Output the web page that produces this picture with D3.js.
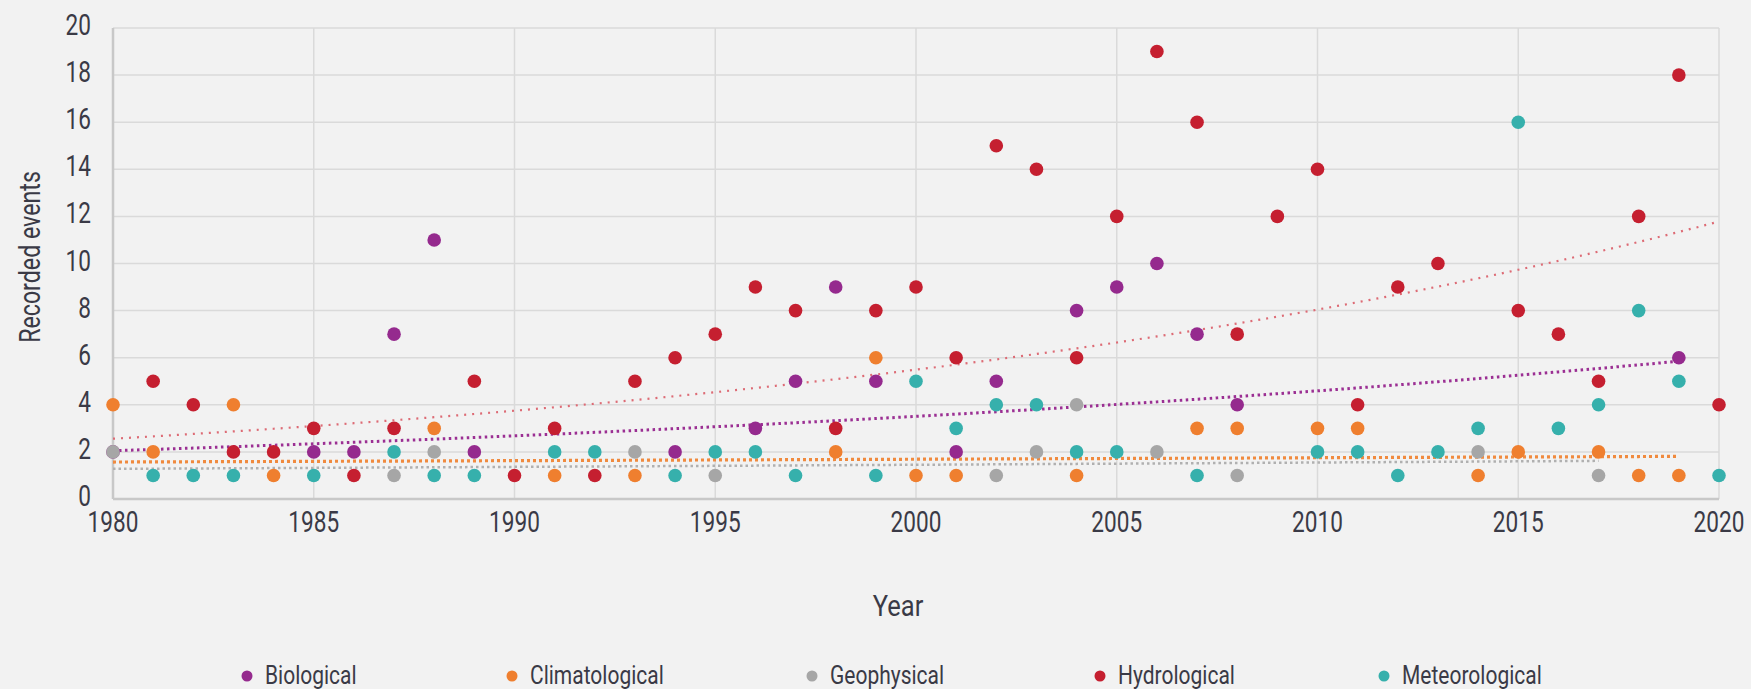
<!DOCTYPE html>
<html lang="en">
<head>
<meta charset="UTF-8">
<title>Recorded events by year</title>
<script src="https://d3js.org/d3.v7.min.js"></script>
<style>
  body {
    margin: 0;
    background: #f2f2f2;
    font-family: "Roboto", "Noto Sans", sans-serif;
  }
  svg { display: block; }
  .grid line { stroke: #dadada; stroke-width: 1.5; }
  text { fill: #3a3a46; }
  .tick-label { font-size: 29px; }
  .axis-title { font-size: 29px; }
  .legend text { font-size: 25px; }
</style>
</head>
<body>
<svg id="chart" width="1751" height="689"></svg>
<script>
// series (year, recorded events)
const seriesNames = ["Biological", "Climatological", "Geophysical", "Hydrological", "Meteorological"];
const seriesColors = ["#952a8e", "#ef7f2f", "#a6a6a6", "#c51f30", "#36b0ac"];

const biological = [[1980,2],[1985,2],[1986,2],[1987,7],[1988,11],[1989,2],[1994,2],[1996,3],[1997,5],
  [1998,9],[1999,5],[2001,2],[2002,5],[2004,8],[2005,9],[2006,10],[2007,7],[2008,4],[2019,6]];
const climatological = [[1980,4],[1981,2],[1983,4],[1984,1],[1988,3],[1991,1],[1993,1],[1998,2],[1999,6],
  [2000,1],[2001,1],[2004,1],[2007,3],[2008,3],[2010,3],[2011,3],[2014,1],[2015,2],[2017,2],[2018,1],[2019,1]];
const geophysical = [[1980,2],[1987,1],[1988,2],[1993,2],[1995,1],[2002,1],[2003,2],[2004,4],[2006,2],
  [2008,1],[2014,2],[2017,1]];
const hydrological = [[1981,5],[1982,4],[1983,2],[1984,2],[1985,3],[1986,1],[1987,3],[1989,5],[1990,1],
  [1991,3],[1992,1],[1993,5],[1994,6],[1995,7],[1996,9],[1997,8],[1998,3],[1999,8],[2000,9],[2001,6],
  [2002,15],[2003,14],[2004,6],[2005,12],[2006,19],[2007,16],[2008,7],[2009,12],[2010,14],[2011,4],
  [2012,9],[2013,10],[2015,8],[2016,7],[2017,5],[2018,12],[2019,18],[2020,4]];
const meteorological = [[1981,1],[1982,1],[1983,1],[1985,1],[1987,2],[1988,1],[1989,1],[1991,2],[1992,2],
  [1994,1],[1995,2],[1996,2],[1997,1],[1999,1],[2000,5],[2001,3],[2002,4],[2003,4],[2004,2],[2005,2],
  [2007,1],[2010,2],[2011,2],[2012,1],[2013,2],[2014,3],[2015,16],[2016,3],[2017,4],[2018,8],[2019,5],[2020,1]];
const seriesData = [biological, climatological, geophysical, hydrological, meteorological];

// exponential trend lines (start / end)
const trendSeries = ["Biological", "Climatological", "Geophysical", "Hydrological"];
const trendStartYear = [1980, 1980, 1980, 1980];
const trendEndYear = [2019, 2019, 2017, 2020];
const trendStartValue = [2.05, 1.57, 1.28, 2.56];
const trendEndValue = [5.85, 1.81, 1.62, 11.78];

const xTicks = [1980, 1985, 1990, 1995, 2000, 2005, 2010, 2015, 2020];
const yTicks = [0, 2, 4, 6, 8, 10, 12, 14, 16, 18, 20];

const margin = { top: 28, right: 32, bottom: 190, left: 113 };
const width = 1751 - margin.left - margin.right;
const height = 689 - margin.top - margin.bottom;

const svg = d3.select("#chart");
const g = svg.append("g").attr("transform", `translate(${margin.left},${margin.top})`);

const x = d3.scaleLinear().domain([1980, 2020]).range([0, width]);
const y = d3.scaleLinear().domain([0, 20]).range([height, 0]);
const color = d3.scaleOrdinal().domain(seriesNames).range(seriesColors);

// narrow text: no condensed font installed, so squeeze Roboto horizontally
function narrowText(parent, px, py, str, cls, anchor, sx, rot) {
  const r = rot ? ` rotate(${rot})` : "";
  return parent.append("text")
    .attr("class", cls)
    .attr("transform", `translate(${px},${py})${r} scale(${sx},1)`)
    .attr("text-anchor", anchor)
    .text(str);
}

// grid
const grid = g.append("g").attr("class", "grid");
grid.selectAll(".h").data(yTicks.slice(1)).enter().append("line")
  .attr("x1", 0).attr("x2", width).attr("y1", d => y(d)).attr("y2", d => y(d));
grid.selectAll(".v").data(xTicks.slice(1)).enter().append("line")
  .attr("y1", 0).attr("y2", height).attr("x1", d => x(d)).attr("x2", d => x(d));

// axis lines
g.append("line").attr("x1", 0).attr("x2", 0).attr("y1", 0).attr("y2", height)
  .attr("stroke", "#c8c8c8").attr("stroke-width", 2.5);
g.append("line").attr("x1", 0).attr("x2", width).attr("y1", height).attr("y2", height)
  .attr("stroke", "#c8c8c8").attr("stroke-width", 2.5);

// tick labels
yTicks.forEach(d => {
  narrowText(g, -22, y(d) + 7, d, "tick-label", "end", 0.78);
});
xTicks.forEach(d => {
  narrowText(g, x(d), height + 33, d, "tick-label", "middle", 0.78);
});

// axis titles
narrowText(svg, 40, 257, "Recorded events", "axis-title", "middle", 0.8, -90);
narrowText(svg, 898, 616, "Year", "axis-title", "middle", 0.88);

// trend lines
const trendStyles = {
  Biological: { w: 3, dash: "2.5,3.5", c: "#9b2f93" },
  Climatological: { w: 3.2, dash: "3,3", c: "#f08a3e" },
  Geophysical: { w: 2.5, dash: "2.5,3", c: "#b0b0b0" },
  Hydrological: { w: 2.2, dash: "2,6", c: "#dd6b75" }
};
const line = d3.line().x(d => x(d[0])).y(d => y(d[1]));
trendSeries.forEach((name, i) => {
  const y0 = trendStartYear[i], y1 = trendEndYear[i];
  const a = trendStartValue[i], b = trendEndValue[i];
  const pts = d3.range(y0, y1 + 0.001, 0.5).map(t => [t, a * Math.pow(b / a, (t - y0) / (y1 - y0))]);
  const s = trendStyles[name];
  g.append("path").datum(pts)
    .attr("d", line).attr("fill", "none")
    .attr("stroke", s.c).attr("stroke-width", s.w).attr("stroke-dasharray", s.dash);
});

// points
seriesNames.forEach((name, i) => {
  g.append("g").selectAll("circle").data(seriesData[i]).enter().append("circle")
    .attr("cx", d => x(d[0])).attr("cy", d => y(d[1])).attr("r", 6.8)
    .attr("fill", color(name));
});

// legend
const legendX = [247, 512, 812, 1100, 1384];
const legend = svg.append("g").attr("class", "legend");
seriesNames.forEach((name, i) => {
  legend.append("circle").attr("cx", legendX[i]).attr("cy", 676).attr("r", 5.5).attr("fill", color(name));
  narrowText(legend, legendX[i] + 18, 684, name, "", "start", 0.84);
});
</script>
</body>
</html>
